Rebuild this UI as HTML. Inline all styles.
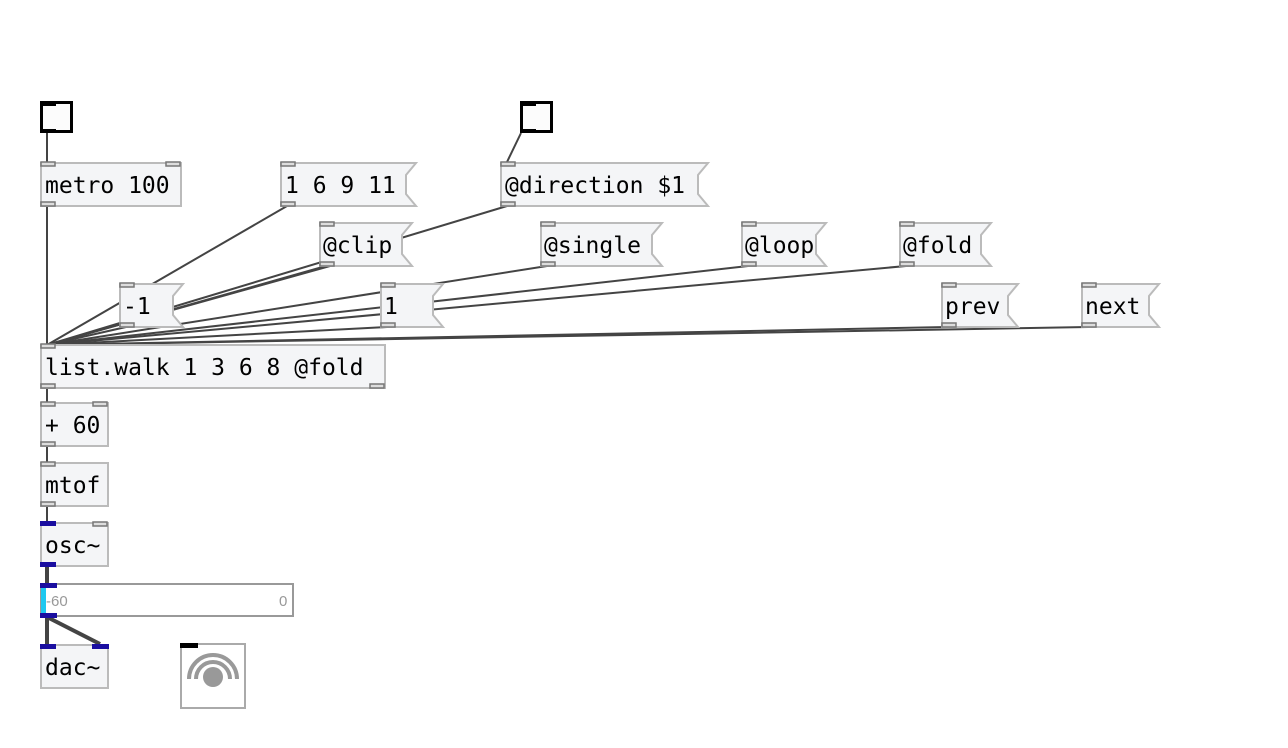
<!DOCTYPE html>
<html><head><meta charset="utf-8"><style>
html,body{margin:0;padding:0;background:#fff;width:1288px;height:748px;overflow:hidden}
svg text{font-family:"DejaVu Sans Mono","Liberation Mono",monospace;font-size:23px;fill:#000}
</style></head><body>
<svg width="1288" height="748" viewBox="0 0 1288 748" xmlns="http://www.w3.org/2000/svg">
<g stroke="#444" stroke-width="2" fill="none">
<line x1="47" y1="133" x2="47" y2="162"/>
<line x1="47" y1="206" x2="47" y2="345"/>
<line x1="521" y1="133" x2="507" y2="162"/>
<line x1="287" y1="206" x2="47" y2="345"/>
<line x1="507" y1="206" x2="47" y2="345"/>
<line x1="326" y1="266" x2="47" y2="345"/>
<line x1="330" y1="266" x2="47" y2="345"/>
<line x1="547" y1="266" x2="47" y2="345"/>
<line x1="748" y1="266" x2="47" y2="345"/>
<line x1="906" y1="266" x2="47" y2="345"/>
<line x1="126" y1="327" x2="47" y2="345"/>
<line x1="387" y1="327" x2="47" y2="345"/>
<line x1="948" y1="327" x2="47" y2="345"/>
<line x1="1088" y1="327" x2="47" y2="345"/>
<line x1="47" y1="388" x2="47" y2="402"/>
<line x1="47" y1="446" x2="47" y2="462"/>
<line x1="47" y1="506" x2="47" y2="522"/>
</g>
<g stroke="#444" stroke-width="4" fill="none">
<line x1="47" y1="566" x2="47" y2="583"/>
<line x1="47" y1="617" x2="47" y2="644"/>
<line x1="47" y1="617" x2="100" y2="644"/>
</g>
<rect x="41.5" y="102.5" width="30" height="29" fill="#fcfcfc" stroke="#000" stroke-width="3"/>
<rect x="40" y="101" width="16" height="5" fill="#000"/>
<rect x="40" y="129" width="16" height="4" fill="#000"/>
<rect x="521.5" y="102.5" width="30" height="29" fill="#fcfcfc" stroke="#000" stroke-width="3"/>
<rect x="520" y="101" width="16" height="5" fill="#000"/>
<rect x="520" y="129" width="16" height="4" fill="#000"/>
<g fill="#f4f5f7" stroke="#bbb" stroke-width="2">
<rect x="41" y="163" width="140" height="43"/>
<rect x="41" y="345" width="344" height="43"/>
<rect x="41" y="403" width="67" height="43"/>
<rect x="41" y="463" width="67" height="43"/>
<rect x="41" y="523" width="67" height="43"/>
<rect x="41" y="645" width="67" height="43"/>
<polygon points="281,163 416,163 406,175 406,194 416,206 281,206"/>
<polygon points="501,163 708,163 698,175 698,194 708,206 501,206"/>
<polygon points="320,223 412,223 402,235 402,254 412,266 320,266"/>
<polygon points="541,223 662,223 652,235 652,254 662,266 541,266"/>
<polygon points="742,223 826,223 816,235 816,254 826,266 742,266"/>
<polygon points="900,223 991,223 981,235 981,254 991,266 900,266"/>
<polygon points="120,284 183,284 173,296 173,315 183,327 120,327"/>
<polygon points="381,284 443,284 433,296 433,315 443,327 381,327"/>
<polygon points="942,284 1018,284 1008,296 1008,315 1018,327 942,327"/>
<polygon points="1082,284 1159,284 1149,296 1149,315 1159,327 1082,327"/>
</g>
<rect x="41" y="584" width="252" height="32" fill="#fff" stroke="#999" stroke-width="2"/>
<rect x="41" y="588" width="5" height="25" fill="#1ec8f0"/>
<text x="46" y="606" style="font-family:'Liberation Sans',sans-serif;font-size:15px;fill:#999">-60</text>
<text x="279" y="606" style="font-family:'Liberation Sans',sans-serif;font-size:15px;fill:#999">0</text>
<rect x="181" y="644" width="64" height="64" fill="#fff" stroke="#aaa" stroke-width="2"/>
<rect x="180" y="643" width="18" height="5" fill="#000"/>
<circle cx="213" cy="677" r="10" fill="#999"/>
<path d="M196,679 A17,17 0 0 1 230,679" fill="none" stroke="#999" stroke-width="4"/>
<path d="M189,679 A24,24 0 0 1 237,679" fill="none" stroke="#999" stroke-width="4"/>
<g fill="#ddd" stroke="#777" stroke-width="1.5">
<rect x="41" y="162" width="14" height="4"/><rect x="166" y="162" width="14" height="4"/><rect x="41" y="202" width="14" height="4"/>
<rect x="281" y="162" width="14" height="4"/><rect x="281" y="202" width="14" height="4"/>
<rect x="501" y="162" width="14" height="4"/><rect x="501" y="202" width="14" height="4"/>
<rect x="320" y="222" width="14" height="4"/><rect x="320" y="262" width="14" height="4"/>
<rect x="541" y="222" width="14" height="4"/><rect x="541" y="262" width="14" height="4"/>
<rect x="742" y="222" width="14" height="4"/><rect x="742" y="262" width="14" height="4"/>
<rect x="900" y="222" width="14" height="4"/><rect x="900" y="262" width="14" height="4"/>
<rect x="120" y="283" width="14" height="4"/><rect x="120" y="323" width="14" height="4"/>
<rect x="381" y="283" width="14" height="4"/><rect x="381" y="323" width="14" height="4"/>
<rect x="942" y="283" width="14" height="4"/><rect x="942" y="323" width="14" height="4"/>
<rect x="1082" y="283" width="14" height="4"/><rect x="1082" y="323" width="14" height="4"/>
<rect x="41" y="344" width="14" height="4"/><rect x="41" y="384" width="14" height="4"/><rect x="370" y="384" width="14" height="4"/>
<rect x="41" y="402" width="14" height="4"/><rect x="93" y="402" width="14" height="4"/><rect x="41" y="442" width="14" height="4"/>
<rect x="41" y="462" width="14" height="4"/><rect x="41" y="502" width="14" height="4"/>
<rect x="93" y="522" width="14" height="4"/>
</g>
<g fill="#1a0ea0">
<rect x="40" y="521" width="16" height="5"/><rect x="40" y="562" width="16" height="5"/>
<rect x="40" y="583" width="17" height="5"/><rect x="40" y="613" width="17" height="5"/>
<rect x="40" y="644" width="16" height="5"/><rect x="92" y="644" width="17" height="5"/>
</g>
<text x="45" y="193">metro 100</text>
<text x="285" y="193">1 6 9 11</text>
<text x="505" y="193">@direction $1</text>
<text x="323" y="253">@clip</text>
<text x="544" y="253">@single</text>
<text x="745" y="253">@loop</text>
<text x="903" y="253">@fold</text>
<text x="123" y="314">-1</text>
<text x="384" y="314">1</text>
<text x="945" y="314">prev</text>
<text x="1085" y="314">next</text>
<text x="45" y="375">list.walk 1 3 6 8 @fold</text>
<text x="45" y="433">+ 60</text>
<text x="45" y="493">mtof</text>
<text x="45" y="553">osc~</text>
<text x="45" y="675">dac~</text>
</svg>
</body></html>
